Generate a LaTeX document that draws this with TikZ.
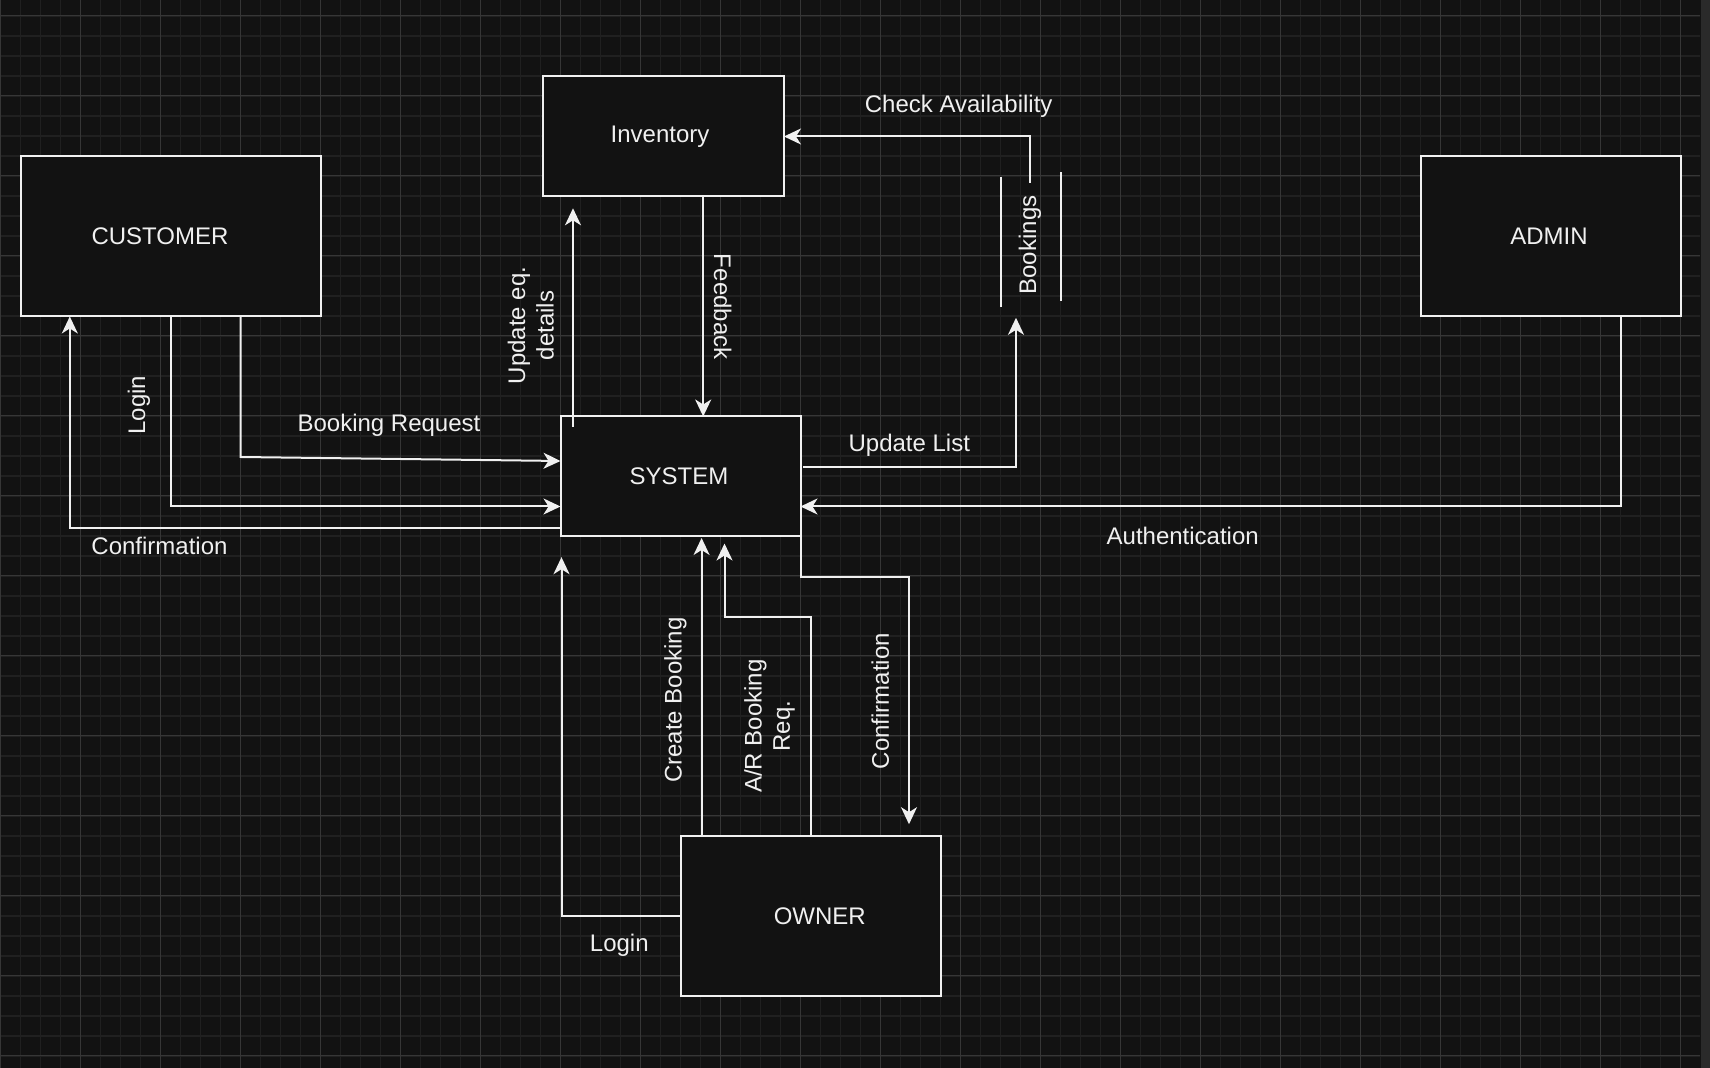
\documentclass[tikz,border=0pt]{standalone}
\usepackage{fontspec}
\setmainfont{Liberation Sans}
\usetikzlibrary{arrows.meta,calc}
\definecolor{bgc}{HTML}{121212}
\definecolor{minorc}{HTML}{202020}
\definecolor{majorc}{HTML}{363636}
\definecolor{ink}{HTML}{F0F0F0}
\definecolor{barc}{HTML}{2A2A2A}
\tikzset{
 entity/.style={draw=ink, fill=bgc, line width=1pt, inner sep=0pt, outer sep=0pt},
 flow/.style={draw=ink, line width=1pt, -{Stealth[length=8.5pt,width=8pt,inset=2.5pt]}},
 plainline/.style={draw=ink, line width=1pt},
 lbl/.style={text=ink, font=\fontsize{12pt}{14.2pt}\selectfont, inner sep=0pt, align=center},
 gminor/.style={draw=minorc, line width=0.6pt},
 gmajor/.style={draw=majorc, line width=0.5pt},
}
\begin{document}
\begin{tikzpicture}[x=0.5pt,y=-0.5pt,line join=miter]
\fill[bgc] (0,0) rectangle (1710,1068);
\useasboundingbox (0,0) rectangle (1710,1068);
% grid
\foreach \i in {0,...,84} { \draw[gminor] (\i*20+0.3,0) -- (\i*20+0.3,1068); }
\foreach \j in {0,...,52} { \draw[gminor] (0,\j*20+16) -- (1700,\j*20+16); }
\foreach \i in {0,...,21} { \draw[gmajor] (\i*80+0.3,0) -- (\i*80+0.3,1068); }
\foreach \j in {0,...,13} { \draw[gmajor] (0,\j*80+16) -- (1700,\j*80+16); }
\fill[barc] (1701,0) rectangle (1710,1068);

% entities
\node[entity, minimum width=150pt, minimum height=80pt,
      label={[lbl,xshift=-5.25pt]center:CUSTOMER}] (cust) at (170.5,236.5) {};
\node[entity, minimum width=120.5pt, minimum height=60pt,
      label={[lbl,xshift=-1.75pt]center:Inventory}] (inv) at (663.5,136.5) {};
\node[entity, minimum width=120pt, minimum height=60pt,
      label={[lbl,xshift=-0.75pt]center:SYSTEM}] (sys) at (680.5,476.5) {};
\node[entity, minimum width=130pt, minimum height=80pt,
      label={[lbl,xshift=-0.75pt]center:ADMIN}] (adm) at (1550.5,236.5) {};
\node[entity, minimum width=130pt, minimum height=80pt,
      label={[lbl,xshift=4.65pt]center:OWNER}] (own) at (810.5,916.5) {};

% bookings data store
\coordinate (bk) at (1031,240);
\draw[plainline] ($(bk)+(-30,-63.3)$) -- ($(bk)+(-30,66.7)$);
\draw[plainline] ($(bk)+(29.6,-67.7)$) -- ($(bk)+(29.6,60.7)$);

% connectors
\draw[flow] ($(cust.south)+(70,0)$) -- ++(0,140.5) -- ($(sys.west)+(0,-15.5)$);
\draw[flow] (cust.south) |- ($(sys.west)+(0,30)$);
\draw[flow] ($(sys.west)+(0,51.5)$) -| ($(cust.south)+(-100.7,0)$);
\draw[flow] ($(sys.north)+(-107.5,10.5)$) -- ($(inv.south)+(-90.5,11.8)$);
\draw[flow] ($(inv.south)+(39.7,0)$) coordinate (f1) -- (f1 |- sys.north);
\draw[flow] ($(bk)+(-0.7,-57.3)$) |- (inv.east);
\draw[flow] ($(sys.east)+(2.5,-9.2)$) -| ($(bk)+(-15,77.8)$);
\draw[flow] ($(adm.south)+(70.5,0)$) |- ($(sys.east)+(0,30)$);
\draw[flow] (own.west) -| ($(sys.south west)+(1,20.7)$);
\draw[flow] ($(own.north)+(-108.9,0)$) coordinate (c1) -- ($(c1 |- sys.south)+(0,1.5)$);
\draw[flow] (own.north) -- ++(0,-219.5) -| ($(sys.south)+(44,7)$);
\draw[flow] (sys.south east) -- ++(0,40.3) -| ($(own.north)+(98.5,-12.3)$);

% labels
\node[lbl] (lBR) at (389,425.7) {Booking Request};
\node[lbl,rotate=90] (lLogin1) at (139,405.3) {Login};
\node[lbl] (lConf1) at (159.5,546.4) {Confirmation};
\node[lbl,rotate=90] (lUpd) at (530.8,325.5) {Update eq.\\details};
\node[lbl,rotate=-90] (lFb) at (722.7,306.7) {Feedback};
\node[lbl] (lCA) at (958.7,106) {Check Availability};
\node[lbl,rotate=90] (lBk) at (1030,245) {Bookings};
\node[lbl] (lUL) at (909.3,445.7) {Update List};
\node[lbl] (lAuth) at (1182.7,535.7) {Authentication};
\node[lbl] (lLogin2) at (619.3,945.5) {Login};
\node[lbl,rotate=90] (lCB) at (675.5,700.1) {Create Booking};
\node[lbl,rotate=90] (lAR) at (769.5,726) {A/R Booking\\Req.};
\node[lbl,rotate=90] (lConf2) at (880.3,701) {Confirmation};
\end{tikzpicture}
\end{document}
